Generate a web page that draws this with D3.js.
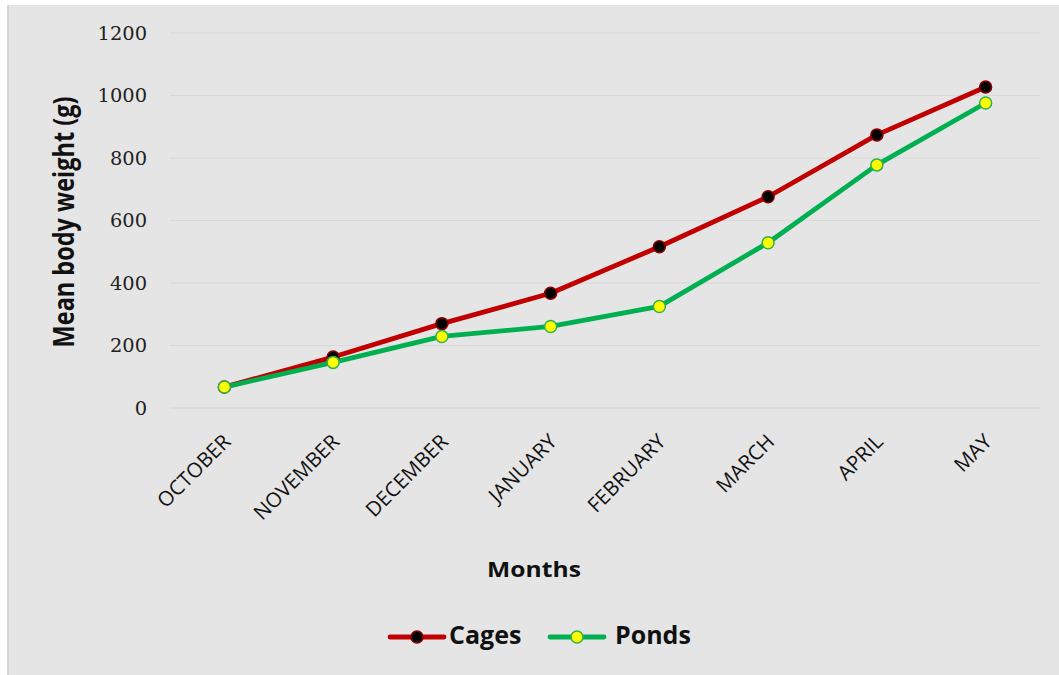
<!DOCTYPE html>
<html>
<head>
<meta charset="utf-8">
<script src="https://cdn.jsdelivr.net/npm/d3@7"></script>
<style>
  html, body { margin: 0; padding: 0; background: #ffffff; }
  svg { display: block; }
</style>
</head>
<body>
<svg id="chart" width="1059" height="675"></svg>
<script>
// Monthly mean body weight (g) of fish reared in cages vs. ponds
const months = ["OCTOBER", "NOVEMBER", "DECEMBER", "JANUARY", "FEBRUARY", "MARCH", "APRIL", "MAY"];
const cages = [67, 163, 270, 367, 516, 676, 874, 1027];
const ponds = [67, 146, 229, 261, 325, 529, 778, 976];
const yTicks = [0, 200, 400, 600, 800, 1000, 1200];

const seriesList = [
  { name: "Cages", values: cages, line: "#c00000", fill: "#000000", stroke: "#8b0000" },
  { name: "Ponds", values: ponds, line: "#00b050", fill: "#ffff00", stroke: "#2db34a" }
];

const svg = d3.select("#chart");
const W = 1059, H = 675;
const sansBold = "'Open Sans', 'DejaVu Sans', sans-serif";

// chart area background
svg.append("rect")
  .attr("x", 7).attr("y", 5).attr("width", W - 7).attr("height", H - 5)
  .attr("fill", "#e5e5e5");
svg.append("line")
  .attr("x1", 8).attr("x2", 8).attr("y1", 5).attr("y2", H)
  .attr("stroke", "#d6d6d6").attr("stroke-width", 2);

const plot = { left: 170, right: 1040, top: 33, bottom: 408 };

const x = d3.scalePoint().domain(months).range([plot.left, plot.right]).padding(0.5);
const y = d3.scaleLinear().domain([0, 1200]).range([plot.bottom, plot.top]);

// horizontal gridlines
svg.append("g")
  .selectAll("line")
  .data(yTicks)
  .join("line")
  .attr("x1", plot.left).attr("x2", plot.right)
  .attr("y1", d => y(d)).attr("y2", d => y(d))
  .attr("stroke", "#d8d8d8").attr("stroke-width", 1.2);

// y axis labels
const yAxis = d3.axisLeft(y).tickValues(yTicks).tickFormat(d3.format("d")).tickSize(0).tickPadding(0);
const yG = svg.append("g").attr("transform", `translate(147,0)`).call(yAxis);
yG.select(".domain").remove();
yG.selectAll("text")
  .attr("font-family", "'DejaVu Serif', 'Liberation Serif', serif")
  .attr("font-size", 18)
  .attr("fill", "#222")
  .attr("dy", "0.36em")
  .attr("transform", "scale(1.08,1)");

// x axis labels, rotated
const xAxis = d3.axisBottom(x).tickSize(0).tickPadding(0);
const xG = svg.append("g").attr("transform", `translate(0,${plot.bottom})`).call(xAxis);
xG.select(".domain").remove();
xG.selectAll("text")
  .attr("font-family", "'Open Sans', 'DejaVu Sans', sans-serif")
  .attr("font-size", 20.5)
  .attr("fill", "#111")
  .attr("text-anchor", "end")
  .attr("dy", 0)
  .attr("transform", "translate(7,35) rotate(-45)");

// axis titles
svg.append("text")
  .attr("transform", "translate(74,222) scale(1.2,1) rotate(-90)")
  .attr("text-anchor", "middle")
  .attr("font-family", sansBold)
  .attr("font-weight", "bold")
  .attr("font-size", 23.5)
  .attr("fill", "#111")
  .text("Mean body weight (g)");

svg.append("text")
  .attr("transform", "translate(534,577) scale(1.12,1)")
  .attr("text-anchor", "middle")
  .attr("font-family", sansBold)
  .attr("font-weight", "bold")
  .attr("font-size", 22)
  .attr("fill", "#111")
  .text("Months");

// series lines and markers
const line = d3.line().x((d, i) => x(months[i])).y(d => y(d));

seriesList.forEach(s => {
  svg.append("path")
    .datum(s.values)
    .attr("d", line)
    .attr("fill", "none")
    .attr("stroke", s.line)
    .attr("stroke-width", 4.8)
    .attr("stroke-linejoin", "round");
});
seriesList.forEach(s => {
  svg.append("g")
    .selectAll("circle")
    .data(s.values)
    .join("circle")
    .attr("cx", (d, i) => x(months[i]))
    .attr("cy", d => y(d))
    .attr("r", 6)
    .attr("fill", s.fill)
    .attr("stroke", s.stroke)
    .attr("stroke-width", 1.5);
});

// legend
const legendItems = [
  { s: seriesList[0], x0: 390, x1: 444, tx: 449 },
  { s: seriesList[1], x0: 550, x1: 604, tx: 615 }
];
const legendY = 637;
legendItems.forEach(it => {
  const g = svg.append("g");
  g.append("line")
    .attr("x1", it.x0).attr("x2", it.x1)
    .attr("y1", legendY).attr("y2", legendY)
    .attr("stroke", it.s.line).attr("stroke-width", 4.8).attr("stroke-linecap", "round");
  g.append("circle")
    .attr("cx", (it.x0 + it.x1) / 2).attr("cy", legendY).attr("r", 6)
    .attr("fill", it.s.fill).attr("stroke", it.s.stroke).attr("stroke-width", 1.5);
  g.append("text")
    .attr("x", it.tx).attr("y", 644)
    .attr("font-family", sansBold)
    .attr("font-weight", "bold")
    .attr("font-size", 25)
    .attr("fill", "#111")
    .text(it.s.name);
});
</script>
</body>
</html>
